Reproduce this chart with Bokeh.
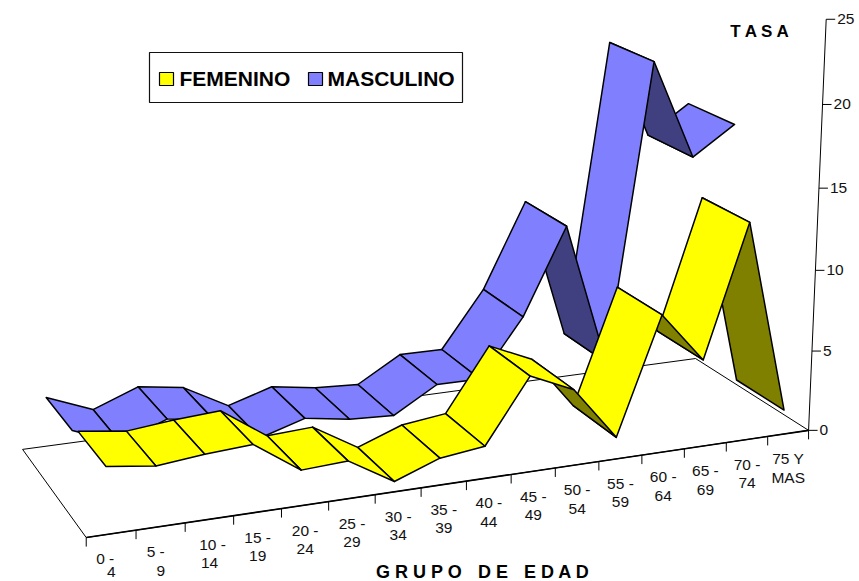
from bokeh.plotting import figure
from bokeh.models import Range1d
from bokeh.core.properties import value
from bokeh.embed import file_html
from bokeh.resources import INLINE

categories = ["0 - 4", "5 - 9", "10 - 14", "15 - 19", "20 - 24", "25 - 29", "30 - 34", "35 - 39",
              "40 - 44", "45 - 49", "50 - 54", "55 - 59", "60 - 64", "65 - 69", "70 - 74", "75 Y MAS"]
femenino = [3.67, 3.3, 3.59, 3.77, 1.86, 2.01, 0.37, 1.38, 1.71, 5.58, 4.39, 1.09, 8.24, 5.14, 13.22, 1.28]
masculino = [3.26, 2.14, 3.19, 2.78, 1.27, 2.1, 1.67, 1.52, 3.1, 3.08, 6.65, 11.98, 3.09, 21.54, 15.43, 17.2]
y_ticks = [0, 5, 10, 15, 20, 25]

# camera of the oblique chart box: category, depth (0 back, 1 front), rate -> page pixels
CAM = [743.78293, 56.41954, -19.02544, 22.07383, -54.3719, 42.9104, -419.16369, 448.8809, 0.1019, -0.08431, -0.04477]
DEPTH_F = (0.552, 0.959)
DEPTH_M = (0.045, 0.46)
N = len(categories)
YMAX = y_ticks[-1]
FONT = value("Liberation Sans")


def proj(u, w, h):
    U, H = u / N, h / YMAX
    d = CAM[8] * U + CAM[9] * w + CAM[10] * H + 1
    return ((CAM[0] * U + CAM[1] * w + CAM[2] * H + CAM[3]) / d,
            (CAM[4] * U + CAM[5] * w + CAM[6] * H + CAM[7]) / d)


W, H = 859, 581
p = figure(width=W, height=H, x_range=Range1d(0, W), y_range=Range1d(H, 0),
           x_axis_location=None, y_axis_location=None, toolbar_location=None,
           output_backend="svg", min_border=0, outline_line_color=None)
p.xgrid.visible = False
p.ygrid.visible = False

# floor
corners = [proj(0, 0, 0), proj(N, 0, 0), proj(N, 1, 0), proj(0, 1, 0)]
p.patch([c[0] for c in corners], [c[1] for c in corners], fill_color="white", line_color="black", line_width=1)
fl, fr = corners[3], corners[2]
p.line([fl[0], fr[0]], [fl[1], fr[1]], line_color="black", line_width=1.6)

# category ticks and labels
tx, ty = zip(*[proj(j, 1, 0) for j in range(N + 1)])
p.segment(tx, ty, tx, [v + 9 for v in ty], line_color="black", line_width=1)
nudge = {0: -6, 1: -5, 2: 3}
l1x, l1y, l1, l2x, l2y, l2 = [], [], [], [], [], []
for i, c in enumerate(categories):
    x, y = proj(i + .5, 1, 0)
    a, b = ("75 Y", "MAS") if c.endswith("MAS") else (c.split(" - ")[0] + " -", c.split(" - ")[1])
    l1x.append(x + nudge.get(i, 0)); l1y.append(y + 25); l1.append(a)
    l2x.append(x); l2y.append(min(y + 44, 571.5)); l2.append(b)
for xs, ys, ts in ((l1x, l1y, l1), (l2x, l2y, l2)):
    p.text(xs, ys, text=ts, text_font=FONT, text_font_size="15.5px", text_color="#111111",
           text_align="center", text_baseline="middle")

# rate axis
ax0, ax1 = proj(N, 1, 0), proj(N, 1, YMAX)
p.line([ax0[0], ax1[0]], [ax0[1], ax1[1]], line_color="black", line_width=1)
yx, yy = zip(*[proj(N, 1, v) for v in y_ticks])
p.segment(yx, yy, [v + 9 for v in yx], yy, line_color="black", line_width=1)
p.text([v + 11 for v in yx], yy, text=[str(v) for v in y_ticks], text_font=FONT, text_font_size="15.5px",
       text_color="#111111", text_align="left", text_baseline="middle")


# ribbons: back series first, each from right to left
def ribbon(vals, depth, col, dark):
    xs, ys, cs = [], [], []
    for i in range(N - 2, -1, -1):
        q = [proj(i + .5, depth[0], vals[i]), proj(i + 1.5, depth[0], vals[i + 1]),
             proj(i + 1.5, depth[1], vals[i + 1]), proj(i + .5, depth[1], vals[i])]
        ar = sum(q[k][0] * q[(k + 1) % 4][1] - q[(k + 1) % 4][0] * q[k][1] for k in range(4))
        xs.append([a[0] for a in q]); ys.append([a[1] for a in q]); cs.append(col if ar > 0 else dark)
    p.patches(xs, ys, fill_color=cs, line_color="black", line_width=1.5, line_join="round")


ribbon(masculino, DEPTH_M, "#8080FF", "#404080")
ribbon(femenino, DEPTH_F, "#FFFF00", "#808000")

# titles
p.text([760], [31], text=["T A S A"], text_font=FONT, text_font_size="17px", text_font_style="bold",
       text_color="black", text_align="center", text_baseline="middle")
p.text([418.5, 492.5, 556.5], [571, 571, 571], text=["G R U P O", "D E", "E D A D"], text_font=FONT,
       text_font_size="18px", text_font_style="bold", text_color="black", text_align="center", text_baseline="middle")

# legend
p.quad(left=[149], right=[462], top=[52], bottom=[102], fill_color="white", line_color="#111111", line_width=1.2)
p.quad(left=[159, 308], right=[173, 322], top=[72, 72], bottom=[85, 85], fill_color=["#FFFF00", "#8080FF"],
       line_color="black", line_width=1.2)
p.text([179, 327], [78, 78], text=["FEMENINO", "MASCULINO"], text_font=FONT, text_font_size="21px",
       text_font_style="bold", text_color="black", text_align="left", text_baseline="middle")

open("out.html", "w").write(file_html(p, INLINE))
